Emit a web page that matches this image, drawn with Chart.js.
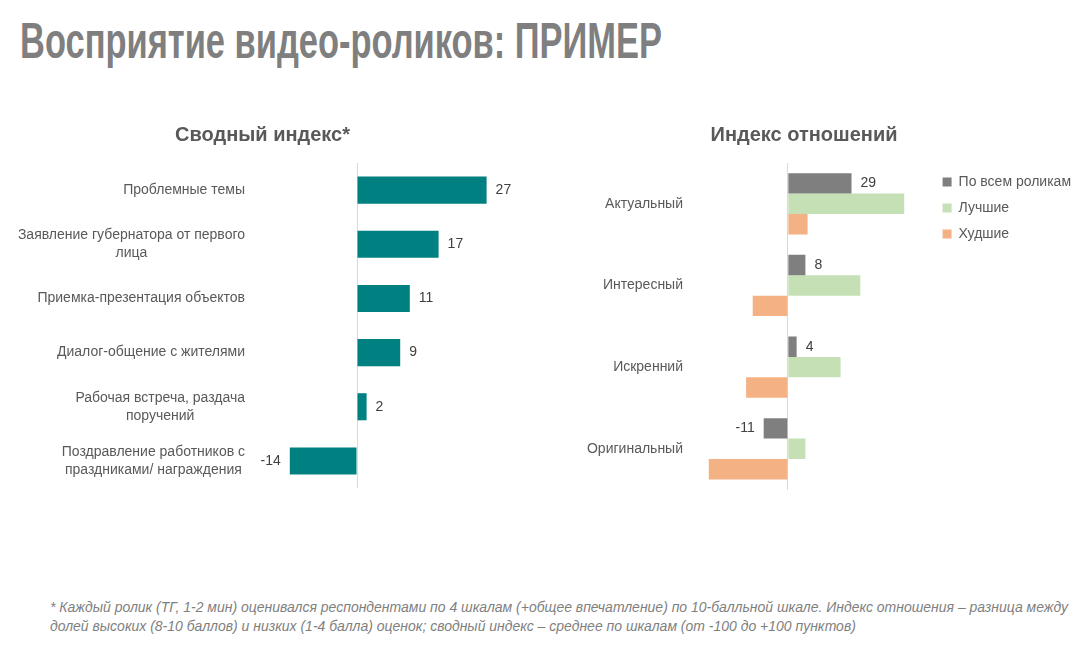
<!DOCTYPE html>
<html>
<head>
<meta charset="utf-8">
<script src="https://cdn.jsdelivr.net/npm/chart.js@4/dist/chart.umd.min.js"></script>
<style>
  html, body { margin: 0; padding: 0; background: #fff; }
  body { width: 1091px; height: 649px; position: relative; overflow: hidden; font-family: "Liberation Sans", Arial, sans-serif; }
  #title { position: absolute; left: 20px; top: 16px; font-size: 50px; line-height: 50px; font-weight: bold; color: #7f7f7f; white-space: nowrap; transform-origin: 0 0; }
  .note { position: absolute; left: 50px; font-size: 14px; line-height: 19px; font-style: italic; color: #7f7f7f; white-space: nowrap; transform-origin: 0 0; }
  #leftBox { position: absolute; left: 0; top: 115px; width: 530px; height: 380px; }
  #rightBox { position: absolute; left: 527px; top: 117px; width: 554px; height: 398px; }
</style>
</head>
<body>
<div id="title">Восприятие видео-роликов: ПРИМЕР</div>
<div id="leftBox"><canvas id="svodChart"></canvas></div>
<div id="rightBox"><canvas id="indexChart"></canvas></div>
<div class="note" id="note1" style="top:598px">* Каждый ролик (ТГ, 1-2 мин) оценивался респондентами по 4 шкалам (+общее впечатление) по 10-балльной шкале. Индекс отношения – разница между</div>
<div class="note" id="note2" style="top:617px">долей высоких (8-10 баллов) и низких (1-4 балла) оценок; сводный индекс – среднее по шкалам (от -100 до +100 пунктов)</div>

<script>
// ---- data ----
var svodCategories = [
    ["Проблемные темы"],
    ["Заявление губернатора от первого", "лица"],
    ["Приемка-презентация объектов"],
    ["Диалог-общение с жителями"],
    ["Рабочая встреча, раздача", "поручений"],
    ["Поздравление работников с", "праздниками/ награждения"]
];
var svodValues = [27, 17, 11, 9, 2, -14];

var indexCategories = ["Актуальный", "Интересный", "Искренний", "Оригинальный"];
var seriesNames = ["По всем роликам", "Лучшие", "Худшие"];
var allValues = [29, 8, 4, -11];
var bestValues = [53, 33, 24, 8];
var worstValues = [9, -16, -19, -36];

// squeeze title and footnote to the condensed look of the original
function squeeze(id, targetWidth) {
    var el = document.getElementById(id);
    var w = el.getBoundingClientRect().width;
    el.style.transform = "scaleX(" + (targetWidth / w) + ")";
}
squeeze("title", 642);
var n1 = document.getElementById("note1");
var k = 1018 / n1.getBoundingClientRect().width;
n1.style.transform = "scaleX(" + k + ")";
document.getElementById("note2").style.transform = "scaleX(" + k + ")";

Chart.defaults.font.family = "'Liberation Sans', Arial, sans-serif";
Chart.defaults.font.size = 14;
Chart.defaults.color = "#595959";

// value labels next to bar ends
var valueLabels = {
    id: "valueLabels",
    afterDatasetsDraw: function (chart, args, opts) {
        var ctx = chart.ctx;
        var idx = opts.dataset || 0;
        var meta = chart.getDatasetMeta(idx);
        var data = chart.data.datasets[idx].data;
        ctx.save();
        ctx.font = "14px 'Liberation Sans', Arial, sans-serif";
        ctx.fillStyle = "#404040";
        ctx.textBaseline = "middle";
        meta.data.forEach(function (bar, i) {
            var v = data[i];
            ctx.textAlign = v >= 0 ? "left" : "right";
            ctx.fillText(String(v), bar.x + (v >= 0 ? 9 : -9), bar.y);
        });
        ctx.restore();
    }
};

// multi-line category labels: block right-aligned, lines centered in block
var blockLabels = {
    id: "blockLabels",
    afterDraw: function (chart) {
        var ctx = chart.ctx;
        var yScale = chart.scales.y;
        ctx.save();
        ctx.font = "14px 'Liberation Sans', Arial, sans-serif";
        ctx.fillStyle = "#595959";
        ctx.textAlign = "center";
        ctx.textBaseline = "middle";
        svodCategories.forEach(function (lines, i) {
            var y = yScale.getPixelForValue(i);
            var w = Math.max.apply(null, lines.map(function (l) { return ctx.measureText(l).width; }));
            var cx = chart.chartArea.left - 16 - w / 2;
            lines.forEach(function (l, j) {
                ctx.fillText(l, cx, y + (j - (lines.length - 1) / 2) * 18);
            });
        });
        ctx.restore();
    }
};

function zeroLine(c) {
    return c.tick && c.tick.value === 0 ? "#d9d9d9" : "rgba(0,0,0,0)";
}

var titleFont = { size: 20, weight: "bold" };

// ---- left chart ----
new Chart(document.getElementById("svodChart"), {
    type: "bar",
    data: {
        labels: svodCategories,
        datasets: [{
            data: svodValues,
            backgroundColor: "#008080",
            categoryPercentage: 1,
            barPercentage: 0.5
        }]
    },
    options: {
        indexAxis: "y",
        responsive: true,
        maintainAspectRatio: false,
        animation: false,
        layout: { padding: { left: 0, right: 5, top: 0, bottom: 7 } },
        scales: {
            x: {
                min: -20, max: 35,
                ticks: { display: false, stepSize: 5 },
                grid: { color: zeroLine, drawTicks: false },
                border: { display: false }
            },
            y: {
                ticks: { display: false },
                grid: { display: false },
                border: { display: false },
                afterFit: function (scale) { scale.width = 261; }
            }
        },
        plugins: {
            legend: { display: false },
            tooltip: { enabled: false },
            title: { display: true, text: "Сводный индекс*", font: titleFont, color: "#595959", padding: { top: 8, bottom: 16 } },
            valueLabels: { dataset: 0 }
        }
    },
    plugins: [valueLabels, blockLabels]
});

// ---- right chart ----
new Chart(document.getElementById("indexChart"), {
    type: "bar",
    data: {
        labels: indexCategories,
        datasets: [
            { label: seriesNames[0], data: allValues, backgroundColor: "#7f7f7f" },
            { label: seriesNames[1], data: bestValues, backgroundColor: "#c5e0b4" },
            { label: seriesNames[2], data: worstValues, backgroundColor: "#f4b183" }
        ]
    },
    options: {
        indexAxis: "y",
        responsive: true,
        maintainAspectRatio: false,
        animation: false,
        datasets: { bar: { categoryPercentage: 0.75, barPercentage: 1 } },
        layout: { padding: { left: 0, right: 0, top: 0, bottom: 9 } },
        scales: {
            x: {
                min: -40, max: 65,
                ticks: { display: false, stepSize: 10 },
                grid: { color: zeroLine, drawTicks: false },
                border: { display: false }
            },
            y: {
                ticks: { padding: 17, color: "#595959" },
                grid: { display: false, drawTicks: false },
                border: { display: false },
                afterFit: function (scale) { scale.width = 173; }
            }
        },
        plugins: {
            legend: {
                position: "right",
                align: "start",
                fullSize: false,
                maxWidth: 200,
                labels: { boxWidth: 9, boxHeight: 9, padding: 12, color: "#595959", font: { size: 14 } }
            },
            tooltip: { enabled: false },
            title: { display: true, text: "Индекс отношений", font: titleFont, color: "#595959", padding: { top: 6, bottom: 16 } },
            valueLabels: { dataset: 0 }
        }
    },
    plugins: [valueLabels]
});
</script>
</body>
</html>
